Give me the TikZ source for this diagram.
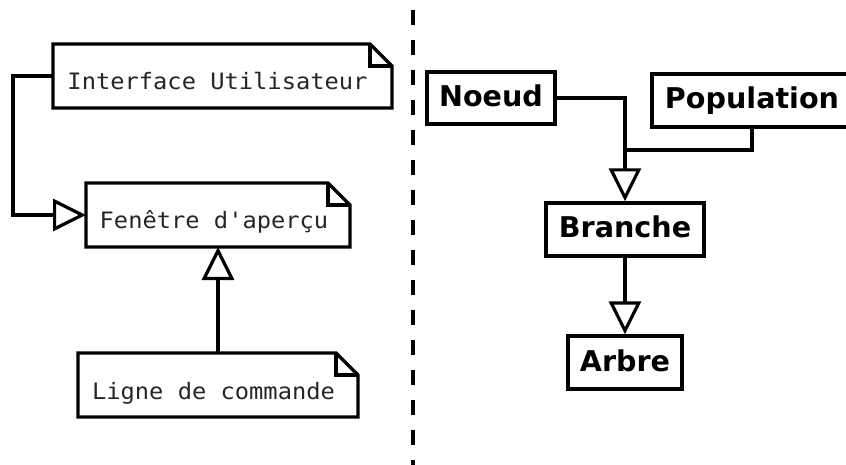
\documentclass[tikz,border=0pt]{standalone}
\usepackage{fontspec}
\newfontfamily\monof{DejaVu Sans Mono}[FakeStretch=1.05,Ligatures=TeXOff]
\newfontfamily\dvsans{DejaVu Sans}
\usetikzlibrary{arrows.meta}
\begin{document}
\begin{tikzpicture}[x=1pt,y=-1pt,
  noteline/.style={line width=3.4pt, line join=miter},
  note/.style={inner sep=0pt, outer sep=0pt, text height=30pt, text depth=2pt,
    font=\monof\fontsize{22.6}{26}\selectfont, text=black!85},
  cls/.style={draw, line width=3.4pt, inner sep=0pt, text height=21pt, text depth=4pt,
    font=\dvsans\bfseries\fontsize{28.6}{32}\selectfont},
  conn/.style={line width=3.2pt},
  gen/.style={line width=3.2pt, -{Triangle[open, length=33pt, width=32pt]}},
  divider/.style={line width=3.4pt, dash pattern=on 15pt off 15pt}]

\useasboundingbox (0,0) rectangle (846,465);
\fill[white] (0,0) rectangle (846,465);

% left part: notes
\node[note, minimum width=339pt, minimum height=64pt] (ui) at (222.5,76) {\kern-10pt Interface Utilisateur};
\node[note, minimum width=264pt, minimum height=64pt] (fa) at (218,215) {\kern-8pt Fenêtre d'aperçu};
\node[note, minimum width=280pt, minimum height=64pt] (lc) at (218,385) {\kern-9pt Ligne de commande};

\foreach \n in {ui,fa,lc}{
  \draw[noteline] (\n.south west) -- (\n.north west) -- ([xshift=-22pt]\n.north east)
    -- ([yshift=-22pt]\n.north east) -- (\n.south east) -- cycle;
  \draw[noteline] ([xshift=-22pt]\n.north east) |- ([yshift=-22pt]\n.north east);
}

\draw[gen] (ui.west) -- ++(-40,0) |- (fa.west);
\draw[gen] (lc.north) -- (fa.south);

% divider
\coordinate (d1) at (413,10);
\coordinate (d2) at (413,480);
\draw[divider] (d1) -- (d2);

% right part: classes
\node[cls, minimum width=128pt, minimum height=52pt] (noeud) at (491,98) {Noeud};
\node[cls, minimum width=200pt, minimum height=53pt] (pop) at (752,100.5) {Population};
\node[cls, minimum width=158pt, minimum height=53pt] (branche) at (625,229.5) {Branche};
\node[cls, minimum width=114pt, minimum height=53pt] (arbre) at (625,362.5) {Arbre};

\coordinate (j) at (625,150);
\draw[gen] (noeud.east) -| (branche.north);
\draw[conn] (pop.south) |- (j);
\draw[gen] (branche.south) -- (arbre.north);
\end{tikzpicture}
\end{document}
